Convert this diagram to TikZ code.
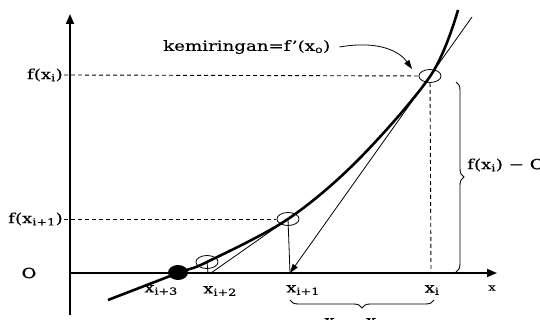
\documentclass[tikz,border=0pt]{standalone}
\usepackage{fontspec}
\setmainfont{DejaVu Serif}[FakeStretch=1.3,FakeBold=0.25]
\usetikzlibrary{arrows.meta,decorations.pathreplacing}
\begin{document}
\begin{tikzpicture}[x=1pt,y=-1pt,
  lbl/.style={font=\fontsize{14}{16}\selectfont, inner sep=1pt},
  axisline/.style={line width=1.8pt,-{Triangle[length=10pt,width=8pt]}},
  curveline/.style={line width=2.6pt},
  thinl/.style={line width=0.8pt},
  guide/.style={line width=0.9pt,dash pattern=on 4pt off 3pt},
  ring/.style={draw,circle,minimum size=13pt,xscale=1.7,inner sep=0pt,line width=0.8pt},
  bracedeco/.style={decorate,decoration={brace,amplitude=8pt},line width=0.9pt}
]
\useasboundingbox (0,0) rectangle (540,320);
\clip (0,0) rectangle (540,320);
% coordinates
\coordinate (O) at (70,273);
\coordinate (ytop) at (70,14);
\coordinate (ybot) at (70,315);
\coordinate (xend) at (497,273);
\coordinate (Xi) at (431,273);
\coordinate (Xi1) at (290,273);
\coordinate (Xi2) at (208,273);
\coordinate (Xi3) at (178,272.5);
\coordinate (tanTop) at (472,17);
\coordinate (tanFoot) at (211,273);
\coordinate (fyi) at (64,75);
\coordinate (fyi1) at (64,219);
% axes
\draw[axisline] (ybot) -- (ytop);
\draw[axisline] (O) -- (xend);
% rings
\node[ring] (ci) at (430,76) {};
\node[ring] (ci1) at (288,219) {};
\node[ring] (ci2) at (207,262) {};
\fill (Xi3) ellipse (10 and 7.5);
% dashed guides
\draw[guide] (fyi) -- (ci);
\draw[guide] (ci) -- (Xi);
\draw[guide] (fyi1) -- (ci1);
% curve
\draw[curveline] plot[smooth, tension=0.55] coordinates {(108,300) (178,273) (207,262) (288,219) (358,160) (431,75) (458,10)};
% tangents and verticals
\draw[thinl,-{Triangle[length=9pt,width=6pt]}] (tanTop) -- (Xi1);
\draw[thinl] (ci1.center) -- (Xi1);
\draw[thinl] (ci1.center) -- (tanFoot);
\draw[thinl] (ci2.center) -- (Xi2);
% labels
\node[lbl,anchor=east] (lfi) at (fyi) {f(x\textsubscript{i})};
\node[lbl,anchor=east] (lfi1) at (fyi1) {f(x\textsubscript{i+1})};
\node[lbl] (lO) at (29,273) {O};
\node[lbl] (lx3) at (161,290) {x\textsubscript{i+3}};
\node[lbl] (lx2) at (220,291) {x\textsubscript{i+2}};
\node[lbl] (lx1) at (303,290) {x\textsubscript{i+1}};
\node[lbl] (lx0) at (432,290) {x\textsubscript{i}};
\node[lbl,font=\fontsize{10}{12}\selectfont] (lx) at (492,288) {x};
\node[lbl,anchor=west] (kem) at (162,47) {kemiringan=f'(x\textsubscript{o})};
\draw[thinl,-{Triangle[length=9pt,width=6pt]}] ([xshift=8pt]kem.east) .. controls (380,40) and (400,52) .. (412,69);
% braces
\draw[bracedeco] (434,300) -- (290,300);
\node[lbl,anchor=north] (ldx) at (362,317) {x\textsubscript{i} − x\textsubscript{i+1}};
\draw[bracedeco] (456,82) -- (456,272);
\node[lbl,anchor=west] (ldf) at (466,165) {f(x\textsubscript{i}) − O};
\end{tikzpicture}
\end{document}
